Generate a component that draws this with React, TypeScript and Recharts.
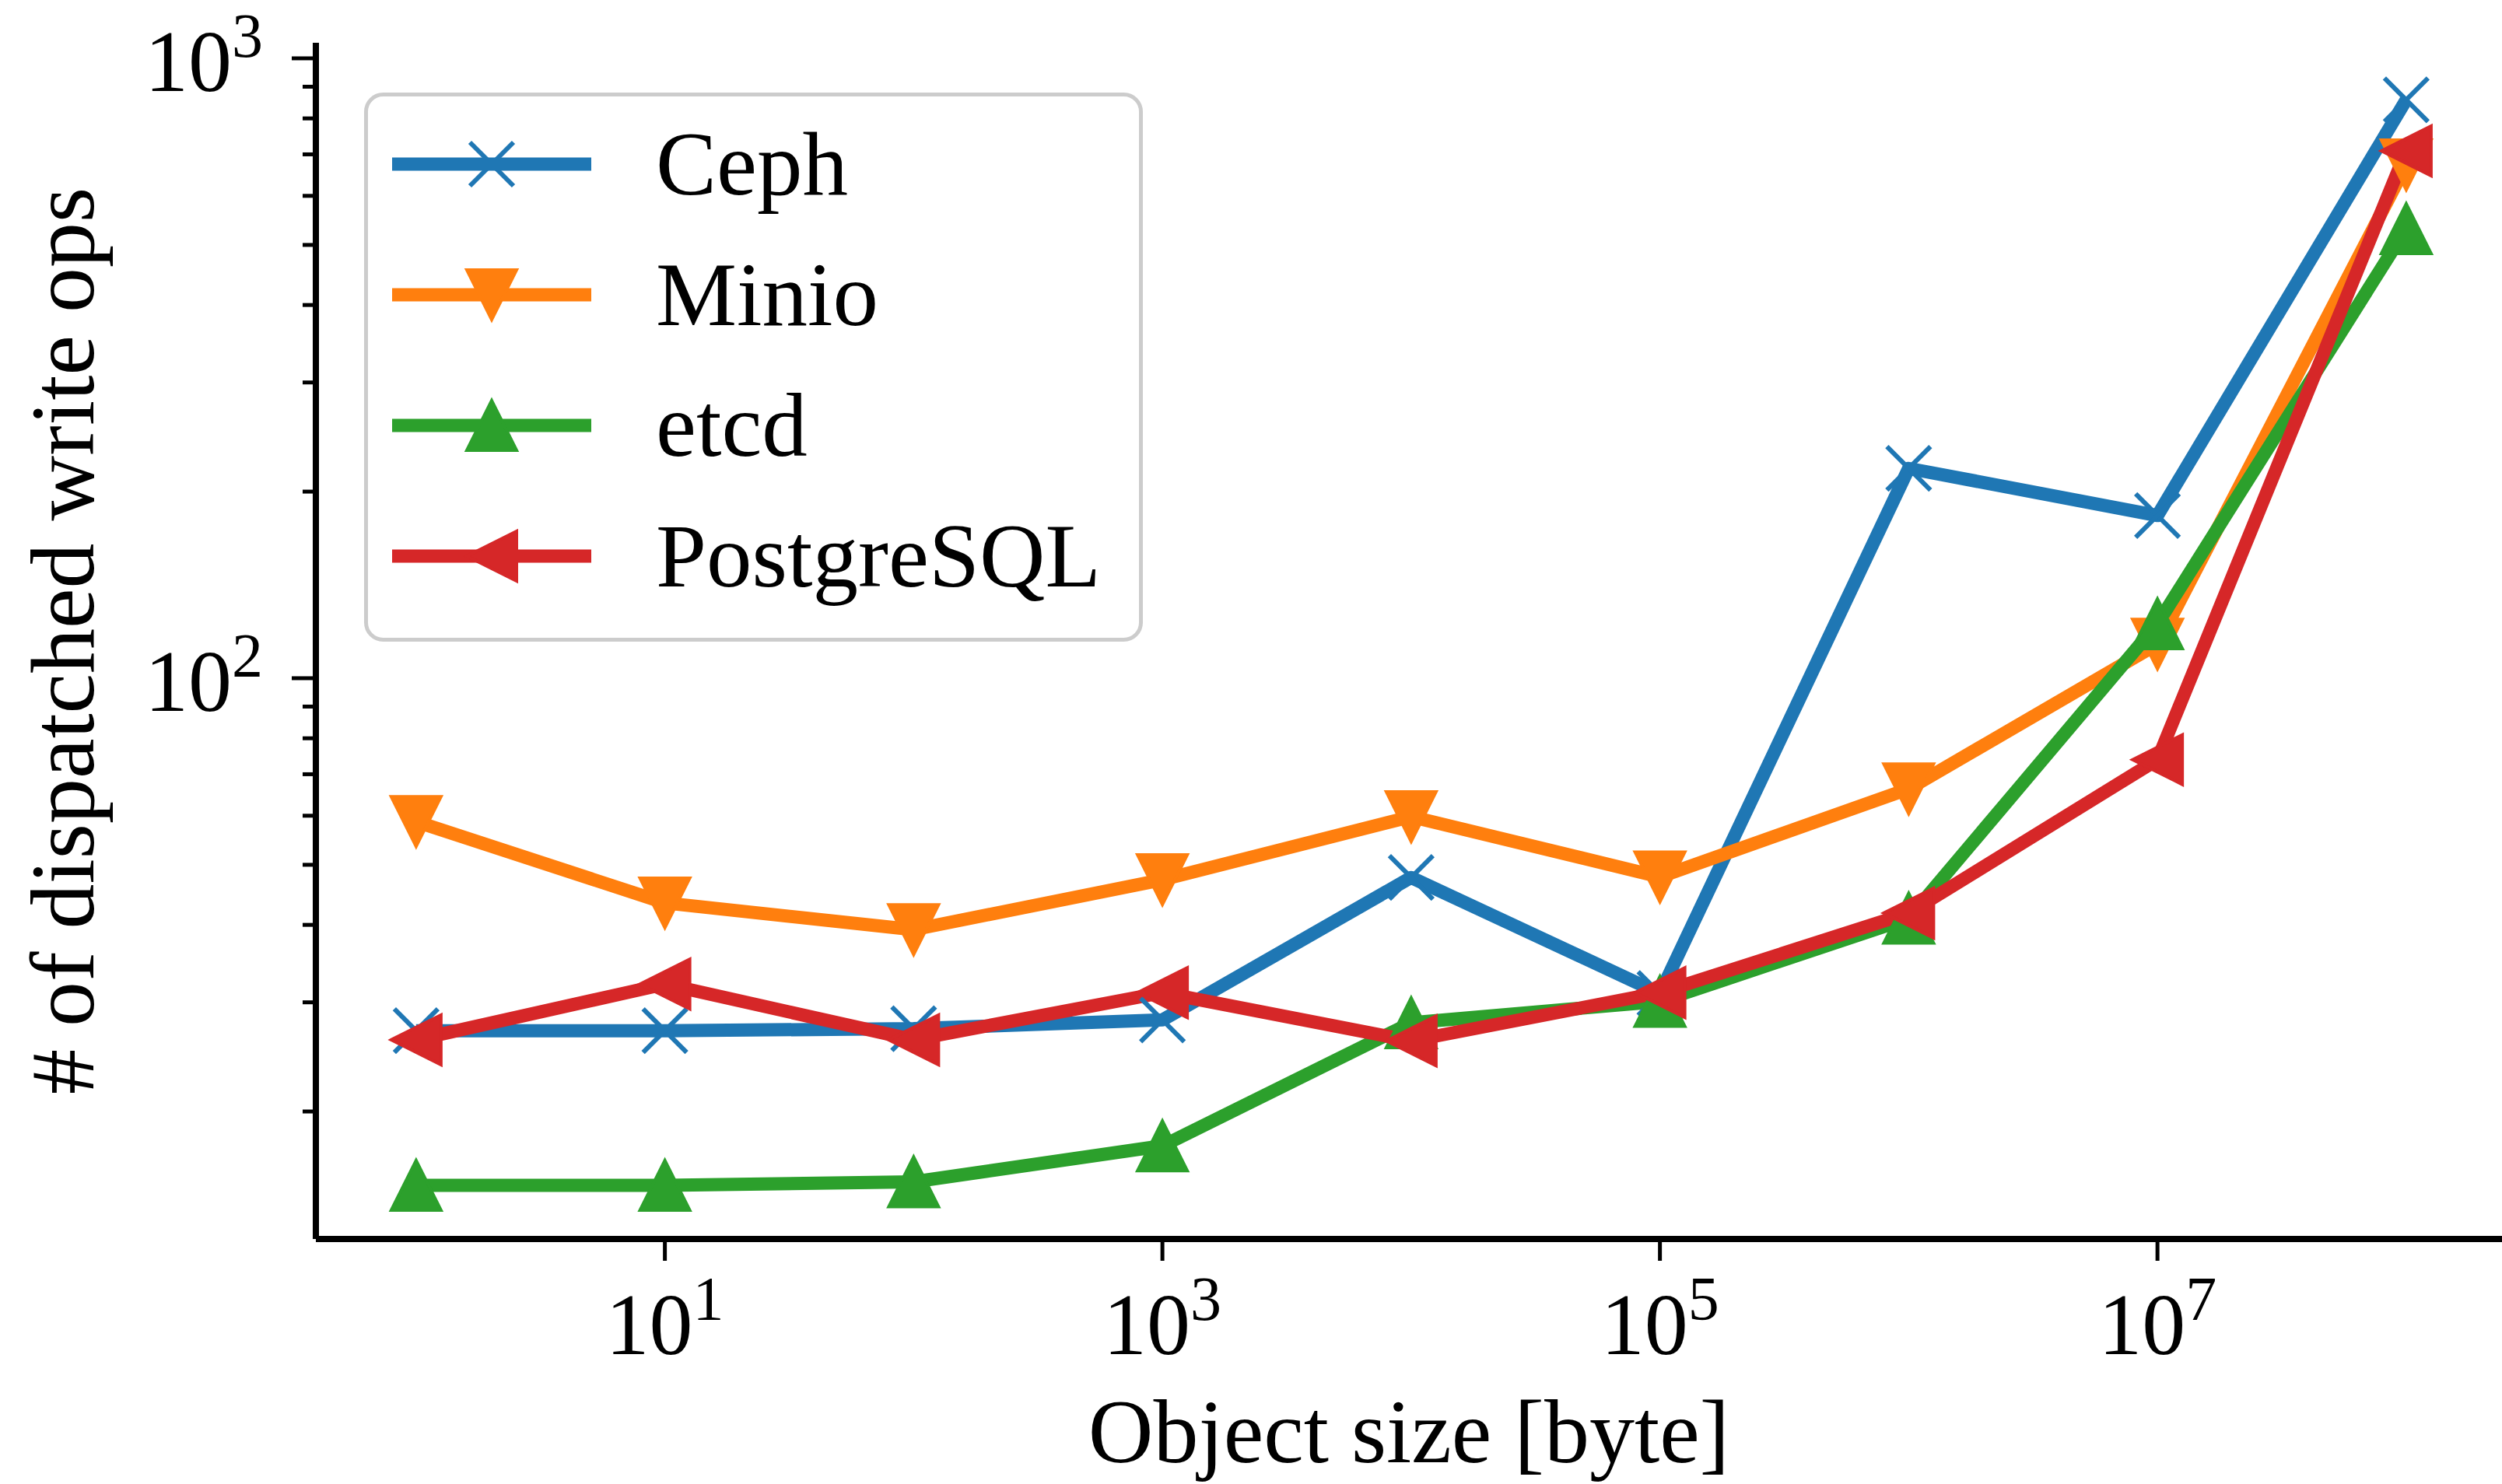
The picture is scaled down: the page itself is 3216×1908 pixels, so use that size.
import { LineChart, Line, XAxis, YAxis, Legend } from 'recharts';

// object sizes in bytes
const sizes = [1, 10, 100, 1e3, 1e4, 1e5, 1e6, 1e7, 1e8];

// number of dispatched write ops per backend
const ceph = [27.0, 27.0, 27.2, 28.1, 47.7, 31.0, 218, 183, 857];
const minio = [58.7, 43.4, 39.3, 47.3, 59.8, 47.8, 66.3, 113.5, 673];
const etcd = [15.2, 15.2, 15.4, 17.6, 27.8, 30.1, 41.0, 122.4, 531];
const postgres = [26.1, 32.1, 26.1, 31.1, 26.0, 31.1, 41.8, 73.9, 709];

const xTicks = [10, 1e3, 1e5, 1e7];
const yMajor = [100, 1000];
const yMinor = [20, 30, 40, 50, 60, 70, 80, 90, 200, 300, 400, 500, 600, 700, 800, 900];

const series = [
  { key: 'ceph', name: 'Ceph', color: '#1f77b4', shape: 'x' },
  { key: 'minio', name: 'Minio', color: '#ff7f0e', shape: 'down' },
  { key: 'etcd', name: 'etcd', color: '#2ca02c', shape: 'up' },
  { key: 'postgres', name: 'PostgreSQL', color: '#d62728', shape: 'left' },
];

const rows = sizes.map((s, i) => ({
  size: s,
  ceph: ceph[i],
  minio: minio[i],
  etcd: etcd[i],
  postgres: postgres[i],
}));

const FONT = '"Liberation Serif", "Times New Roman", Times, serif';
const W = 3216;
const H = 1908;
const PLOT_TOP = 55;
const PLOT_LEFT = 406;
const PLOT_BOTTOM = 1593;

function Marker({ shape, cx, cy, color }: { shape: string; cx: number; cy: number; color: string }) {
  if (shape === 'x') {
    const r = 28;
    return (
      <g stroke={color} strokeWidth={6}>
        <line x1={cx - r} y1={cy - r} x2={cx + r} y2={cy + r} />
        <line x1={cx - r} y1={cy + r} x2={cx + r} y2={cy - r} />
      </g>
    );
  }
  const r = 32;
  let pts = '';
  if (shape === 'down') pts = `${cx - r},${cy - r} ${cx + r},${cy - r} ${cx},${cy + r}`;
  else if (shape === 'up') pts = `${cx - r},${cy + r} ${cx + r},${cy + r} ${cx},${cy - r}`;
  else pts = `${cx - r},${cy} ${cx + r},${cy - r} ${cx + r},${cy + r}`;
  return <polygon points={pts} fill={color} stroke={color} strokeWidth={4} />;
}

function XTick(props: any) {
  const { x, y, payload } = props;
  const exp = Math.round(Math.log10(payload.value));
  return (
    <g>
      <line x1={x} x2={x} y1={y} y2={y + 28} stroke="#000" strokeWidth={5} />
      <text x={x} y={y + 148} textAnchor="middle" style={{ fontFamily: FONT }} fontSize={112} fill="#000">
        10<tspan dy={-44} fontSize={80}>{exp}</tspan>
      </text>
    </g>
  );
}

function YTick(props: any) {
  const { x, y, payload } = props;
  const major = yMajor.includes(payload.value);
  const exp = Math.round(Math.log10(payload.value));
  return (
    <g>
      <line x1={x - (major ? 31 : 17)} x2={x} y1={y} y2={y} stroke="#000" strokeWidth={5} />
      {major && (
        <text x={x - 68} y={y + 42} textAnchor="end" style={{ fontFamily: FONT }} fontSize={112} fill="#000">
          10<tspan dy={-44} fontSize={80}>{exp}</tspan>
        </text>
      )}
    </g>
  );
}

function LegendBox() {
  return (
    <svg width={1001} height={706} style={{ display: 'block' }}>
      <rect x={2.5} y={2.5} width={996} height={701} rx={22} fill="#fff" fillOpacity={0.8} stroke="#cccccc" strokeWidth={5} />
      {series.map((s, i) => {
        const cy = 92 + i * 168;
        return (
          <g key={s.key}>
            <line x1={36} x2={292} y1={cy} y2={cy} stroke={s.color} strokeWidth={17} />
            <Marker shape={s.shape} cx={164} cy={cy} color={s.color} />
            <text x={375} y={cy + 39} style={{ fontFamily: FONT }} fontSize={117} fill="#000">
              {s.name}
            </text>
          </g>
        );
      })}
    </svg>
  );
}

export default function App() {
  const midY = (PLOT_TOP + PLOT_BOTTOM) / 2;
  return (
    <div style={{ position: 'absolute', left: 0, top: 0, width: W, height: H, background: '#fff', fontFamily: FONT }}>
      <LineChart width={W} height={H} data={rows} margin={{ top: PLOT_TOP, right: 0, bottom: 0, left: 0 }}>
        <XAxis
          dataKey="size"
          type="number"
          scale="log"
          domain={[10 ** -0.403, 10 ** 8.385]}
          allowDataOverflow
          ticks={xTicks}
          interval={0}
          tick={XTick}
          tickLine={false}
          tickSize={0}
          tickMargin={0}
          height={H - PLOT_BOTTOM}
          axisLine={{ stroke: '#000', strokeWidth: 8 }}
          label={() => (
            <text x={(PLOT_LEFT + W) / 2} y={1880} textAnchor="middle" style={{ fontFamily: FONT }} fontSize={116} fill="#000">
              Object size [byte]
            </text>
          )}
        />
        <YAxis
          type="number"
          scale="log"
          domain={[10 ** 1.0953, 10 ** 3.0251]}
          allowDataOverflow
          ticks={[...yMinor, ...yMajor]}
          interval={0}
          tick={YTick}
          tickLine={false}
          tickSize={0}
          tickMargin={0}
          width={PLOT_LEFT}
          axisLine={{ stroke: '#000', strokeWidth: 8 }}
          label={() => (
            <text
              x={120}
              y={midY}
              transform={`rotate(-90, 120, ${midY})`}
              textAnchor="middle"
              style={{ fontFamily: FONT }}
              fontSize={116}
              fill="#000"
            >
              # of dispatched write ops
            </text>
          )}
        />
        <Legend
          layout="vertical"
          align="center"
          verticalAlign="middle"
          content={LegendBox}
          wrapperStyle={{ position: 'absolute', left: 468, top: 119, width: 1001, height: 706, margin: 0 }}
        />
        {series.map((s) => (
          <Line
            key={s.key}
            dataKey={s.key}
            name={s.name}
            stroke={s.color}
            strokeWidth={17}
            strokeLinejoin="round"
            isAnimationActive={false}
            activeDot={false}
            dot={(p: any) => <Marker key={`${s.key}-${p.index}`} shape={s.shape} cx={p.cx} cy={p.cy} color={s.color} />}
          />
        ))}
      </LineChart>
    </div>
  );
}
